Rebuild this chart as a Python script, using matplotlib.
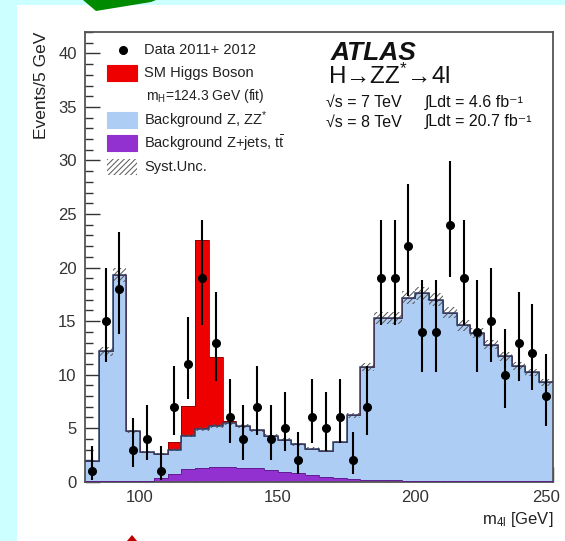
import matplotlib.pyplot as plt
import numpy as np
from matplotlib.patches import Polygon, Rectangle
from matplotlib.ticker import MultipleLocator
from matplotlib.transforms import ScaledTranslation

plt.rcParams['font.family'] = ['Liberation Sans', 'DejaVu Sans']
plt.rcParams['mathtext.fontset'] = 'custom'
plt.rcParams['mathtext.rm'] = 'Liberation Sans'
plt.rcParams['mathtext.it'] = 'Liberation Sans:italic'
plt.rcParams['hatch.linewidth'] = 0.7

# m4l histogram, 5 GeV bins from 80 to 250 GeV
BIN_EDGES = np.arange(80, 255, 5)

data_counts = [1, 15, 18, 3, 4, 1, 7, 11, 19, 13,
               6, 4, 7, 4, 5, 2, 6, 5, 6, 2,
               7, 19, 19, 22, 14, 14, 24, 19, 14, 15,
               10, 13, 12, 8]

zjets_tt = [0.05, 0.05, 0.05, 0.05, 0.1, 0.3, 0.75, 1.2, 1.3, 1.35,
            1.35, 1.3, 1.25, 1.1, 0.95, 0.8, 0.6, 0.45, 0.35, 0.25,
            0.2, 0.15, 0.12, 0.1, 0.1, 0.08, 0.08, 0.07, 0.06, 0.05,
            0.05, 0.05, 0.04, 0.04]

zz_bkg = [1.85, 12.15, 19.25, 4.65, 2.7, 2.3, 2.25, 3.1, 3.6, 3.85,
          4.15, 3.9, 3.55, 3.2, 2.95, 2.7, 2.5, 2.45, 3.35, 5.95,
          10.5, 15.15, 15.18, 17.1, 17.5, 16.92, 15.72, 14.53, 13.84, 12.75,
          11.65, 10.75, 10.16, 9.26]

higgs_signal = [0, 0, 0, 0, 0, 0, 0.7, 2.8, 17.7, 6.4,
                0.15, 0, 0, 0, 0, 0, 0, 0, 0, 0,
                0, 0, 0, 0, 0, 0, 0, 0, 0, 0,
                0, 0, 0, 0]

SYST_FRAC = 0.035

X_TICKS = [100, 150, 200, 250]
Y_TICKS = [0, 5, 10, 15, 20, 25, 30, 35, 40]

CYAN = '#ccffff'
RED = '#ee0000'
BLUE = '#aecdf4'
PURPLE = '#9330d0'
LINE = '#2d3f66'


def px_to_fig(x, y):
    return x / 565, 1 - y / 541


fig = plt.figure(figsize=(5.65, 5.41), dpi=100, facecolor=CYAN)

# slide decorations around the picture
fig.patches.append(Rectangle((17 / 565, 0), 548 / 565, 536 / 541, transform=fig.transFigure,
                             facecolor='white', edgecolor='none', zorder=-2))
fig.patches.append(Polygon([px_to_fig(*p) for p in [(83, 0), (156, 0), (151, 2), (96, 11)]],
                           closed=True, transform=fig.transFigure,
                           facecolor='#008a00', edgecolor='none', zorder=-1))
fig.patches.append(Polygon([px_to_fig(*p) for p in [(127, 541), (132, 535), (137, 541)]],
                           closed=True, transform=fig.transFigure,
                           facecolor='#c00000', edgecolor='none', zorder=-1))

ax = fig.add_axes([85 / 565, 59.3 / 541, 468 / 565, 449.7 / 541])
ax.set_facecolor('white')

counts = np.array(data_counts, dtype=float)
zj = np.array(zjets_tt)
bkg_total = zj + np.array(zz_bkg)
sig_total = bkg_total + np.array(higgs_signal)
centers = BIN_EDGES[:-1] + 2.5

ax.stairs(zj, BIN_EDGES, baseline=0, fill=True, color=PURPLE, zorder=2)
ax.stairs(bkg_total, BIN_EDGES, baseline=zj, fill=True, color=BLUE, zorder=2)
ax.stairs(sig_total, BIN_EDGES, baseline=bkg_total, fill=True, color=RED, zorder=2)
ax.stairs(zj, BIN_EDGES, baseline=None, color='#5a1a8a', lw=0.6, zorder=3)
ax.stairs(sig_total, BIN_EDGES, baseline=None, color='#8a0000', lw=0.6, zorder=3)
ax.stairs(bkg_total, BIN_EDGES, baseline=None, color=LINE, lw=1.1, zorder=3)

# systematic band on the background
band = np.append(bkg_total, bkg_total[-1])
ax.fill_between(BIN_EDGES, band * (1 - SYST_FRAC), band * (1 + SYST_FRAC), step='post',
                facecolor='none', edgecolor='#555555', hatch='//////', lw=0, zorder=2.5)

# Poisson-like asymmetric errors on the data
err_up = np.sqrt(counts + 0.75) + 1
err_lo = np.sqrt(counts - 0.25)
ax.errorbar(centers, counts, yerr=[err_lo, err_up], fmt='o', color='black',
            ms=5.5, elinewidth=1.5, capsize=0, zorder=4)

ax.set_xlim(80, 250)
ax.set_ylim(0, 42)
ax.set_xticks(X_TICKS)
ax.set_yticks(Y_TICKS)
ax.xaxis.set_minor_locator(MultipleLocator(10))
ax.yaxis.set_minor_locator(MultipleLocator(1))
ax.tick_params(which='both', direction='in', top=False, right=False,
               colors='#333333', labelsize=12, pad=6, width=1)
ax.tick_params(which='major', length=11)
ax.tick_params(which='minor', length=6)
for spine in ax.spines.values():
    spine.set_color('#555555')
    spine.set_linewidth(1.3)

# keep the last x label inside the picture
last_label = ax.get_xticklabels()[-1]
last_label.set_transform(last_label.get_transform() + ScaledTranslation(-5 / 72, 0, fig.dpi_scale_trans))

ax.set_ylabel('Events/5 GeV', fontsize=12.5, loc='top', color='#222222')
ax.yaxis.set_label_coords(-0.076, 1.0)
ax.text(1.0, -0.083, r'$\mathregular{m_{4l}}$ [GeV]', transform=ax.transAxes,
        ha='right', va='center', fontsize=12, color='#222222')

# legend, drawn by hand in axes fractions
leg_x, box_w, box_h, txt_x = 0.047, 0.064, 0.036, 0.126
ax.plot([0.081], [0.960], 'o', color='black', ms=5.5, transform=ax.transAxes, zorder=5)
legend_rows = [
    (0.909, RED, None, 'SM Higgs Boson'),
    (0.804, BLUE, None, r'Background Z, ZZ$^{*}$'),
    (0.753, PURPLE, None, r'Background Z+jets, $\mathregular{t\bar{t}}$'),
    (0.700, 'white', '//////', 'Syst.Unc.'),
]
ax.text(txt_x, 0.960, 'Data 2011+ 2012', transform=ax.transAxes, va='center',
        fontsize=10.5, color='#222222')
for y, color, hatch, label in legend_rows:
    ax.add_patch(Rectangle((leg_x, y - box_h / 2), box_w, box_h, transform=ax.transAxes,
                           facecolor=color, edgecolor='#555555' if hatch else color,
                           hatch=hatch, lw=0 if hatch else 0.8, zorder=5))
    ax.text(txt_x, y, label, transform=ax.transAxes, va='center',
            fontsize=10.5, color='#222222')
ax.text(0.130, 0.858, r'$\mathregular{m_H}$=124.3 GeV (fit)', transform=ax.transAxes,
        va='center', fontsize=10, color='#222222')

# experiment labels
ax.text(0.525, 0.953, 'ATLAS', transform=ax.transAxes, va='center',
        fontsize=19, fontweight='bold', fontstyle='italic', color='#111111')
ax.text(0.520, 0.902, r'H→ZZ$^{*}$→4l', transform=ax.transAxes, va='center',
        fontsize=17.5, color='#111111')
lumi_rows = [(0.843, '√s = 7 TeV', '∫Ldt = 4.6 fb⁻¹'),
             (0.800, '√s = 8 TeV', '∫Ldt = 20.7 fb⁻¹')]
for y, energy, lumi in lumi_rows:
    ax.text(0.515, y, energy, transform=ax.transAxes, va='center',
            fontsize=11.5, color='#111111')
    ax.text(0.726, y, lumi, transform=ax.transAxes, va='center',
            fontsize=11.5, color='#111111')

fig.savefig('out.png', dpi=100, facecolor=CYAN)
